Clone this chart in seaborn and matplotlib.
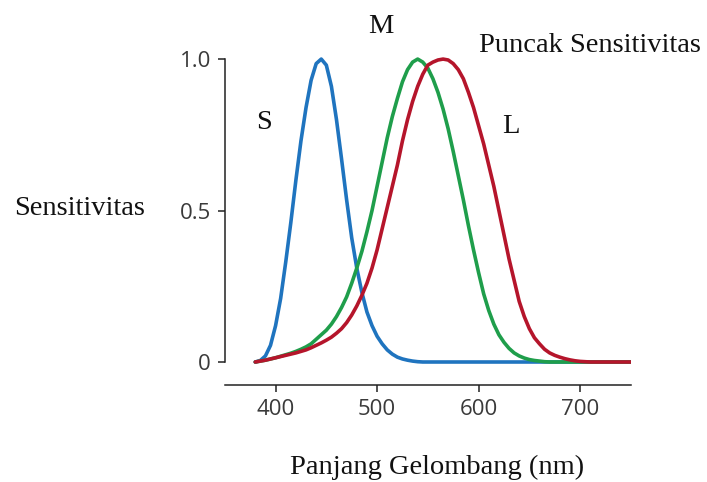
import numpy as np
import pandas as pd
import seaborn as sns
import matplotlib.pyplot as plt

# wavelength grid (nm) and cone sensitivities
wavelength = list(range(380, 755, 5))

s_cone = [0.0, 0.005, 0.02, 0.055, 0.12, 0.21, 0.33, 0.46, 0.60, 0.73,
          0.84, 0.93, 0.985, 1.0, 0.98, 0.91, 0.80, 0.67, 0.535, 0.41,
          0.31, 0.23, 0.165, 0.12, 0.085, 0.06, 0.04, 0.026, 0.016, 0.01,
          0.006, 0.003, 0.001] + [0.0] * 42

m_cone = [0.0, 0.003, 0.006, 0.01, 0.014, 0.019, 0.024, 0.029, 0.035, 0.042,
          0.05, 0.06, 0.075, 0.09, 0.105, 0.125, 0.15, 0.18, 0.215, 0.26,
          0.31, 0.365, 0.43, 0.50, 0.58, 0.66, 0.74, 0.81, 0.87, 0.925,
          0.965, 0.99, 1.0, 0.99, 0.97, 0.935, 0.89, 0.835, 0.77, 0.695,
          0.615, 0.535, 0.45, 0.37, 0.295, 0.225, 0.17, 0.125, 0.09, 0.065,
          0.045, 0.03, 0.02, 0.013, 0.008, 0.005, 0.003, 0.001] + [0.0] * 17

l_cone = [0.0, 0.003, 0.006, 0.01, 0.014, 0.018, 0.022, 0.026, 0.03, 0.035,
          0.04, 0.047, 0.055, 0.063, 0.072, 0.082, 0.095, 0.11, 0.13, 0.155,
          0.185, 0.22, 0.26, 0.31, 0.37, 0.44, 0.51, 0.58, 0.65, 0.73,
          0.80, 0.86, 0.91, 0.95, 0.98, 0.99, 0.997, 1.0, 0.997, 0.985,
          0.965, 0.935, 0.89, 0.84, 0.78, 0.72, 0.65, 0.58, 0.50, 0.42,
          0.34, 0.27, 0.20, 0.15, 0.11, 0.08, 0.06, 0.042, 0.03, 0.022,
          0.016, 0.011, 0.007, 0.004, 0.002, 0.001] + [0.0] * 9

cone_names = ["S", "M", "L"]
cone_colors = ["#1f74bf", "#1f9e4b", "#b5152b"]

df = pd.DataFrame({
    "wavelength": wavelength * 3,
    "sens": s_cone + m_cone + l_cone,
    "cone": [c for c in cone_names for _ in wavelength],
})

sns.set_style("white")
plt.rcParams['font.family'] = ['Open Sans', 'DejaVu Sans']

fig = plt.figure(figsize=(7.07, 4.82), dpi=100)
ax = fig.add_axes([0.318, 0.2012, 0.5743, 0.6888])

sns.lineplot(data=df, x="wavelength", y="sens", hue="cone",
             palette=dict(zip(cone_names, cone_colors)), linewidth=2.6,
             legend=False, ax=ax, solid_joinstyle="round", solid_capstyle="round")

ax.set_xlim(350, 750)
ax.set_ylim(-0.076, 1.02)
ax.set_xticks([400, 500, 600, 700])
ax.set_yticks([0, 0.5, 1.0])
ax.set_yticklabels(["0", "0.5", "1.0"])
ax.set_xlabel("")
ax.set_ylabel("")

for side in ["top", "right"]:
    ax.spines[side].set_visible(False)
ax.spines["left"].set_bounds(0, 1)
ax.spines["left"].set_color("#222222")
ax.spines["bottom"].set_color("#222222")
ax.spines["left"].set_linewidth(1.1)
ax.spines["bottom"].set_linewidth(1.1)
ax.tick_params(axis="both", length=5, width=1.1, color="#222222",
               labelsize=16, labelcolor="#3a3a3a", pad=5, left=True, bottom=True)

serif = dict(family="Liberation Serif", fontsize=20.5, color="#111111")
ax.text(389, 0.79, "S", ha="center", va="center", clip_on=False, **serif)
ax.text(504, 1.106, "M", ha="center", va="center", clip_on=False, **serif)
ax.text(632, 0.776, "L", ha="center", va="center", clip_on=False, **serif)
ax.text(600, 1.046, "Puncak Sensitivitas", ha="left", va="center", clip_on=False, **serif)
fig.text(0.113, 0.568, "Sensitivitas", ha="center", va="center", **serif)
fig.text(0.618, 0.031, "Panjang Gelombang (nm)", ha="center", va="center", **serif)

plt.savefig("out.png", dpi=100)
